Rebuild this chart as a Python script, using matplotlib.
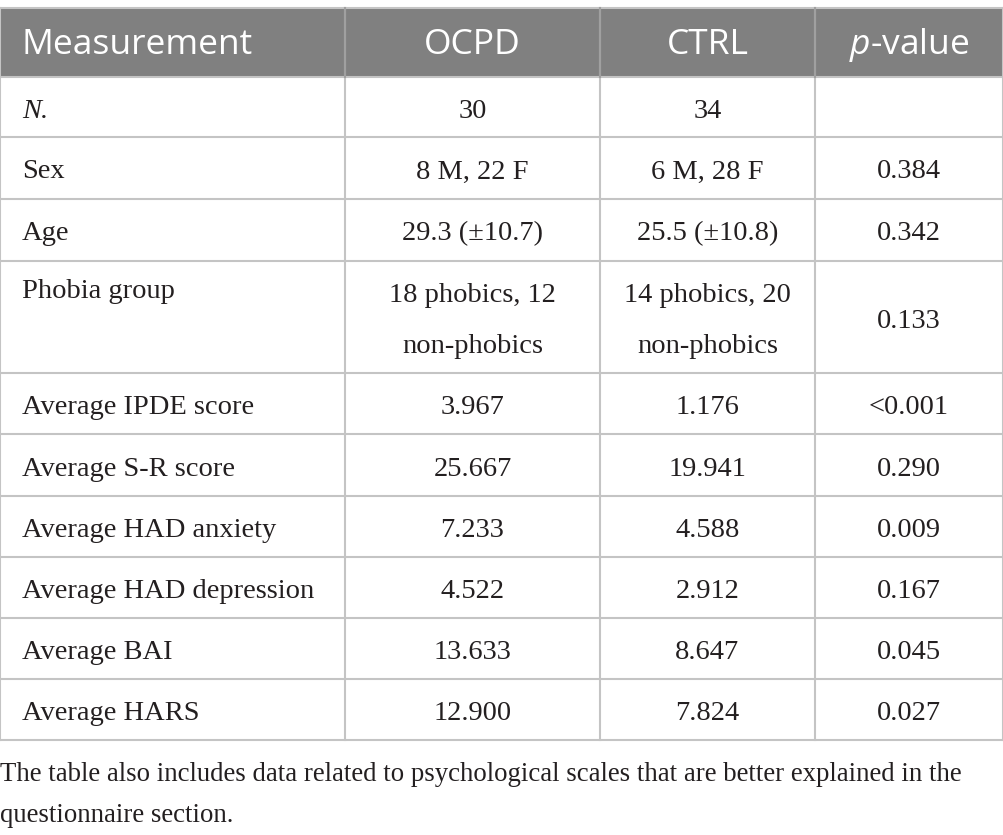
import matplotlib.pyplot as plt
from matplotlib.patches import Rectangle

plt.rcParams["mathtext.fontset"] = "custom"
plt.rcParams["mathtext.it"] = "Open Sans:italic"
plt.rcParams["mathtext.rm"] = "Open Sans"

# ── Datos de la tabla ───────────────────────────────────────────────
columnas = ["Measurement", "OCPD", "CTRL", r"$p$-value"]
medidas = ["N.", "Sex", "Age", "Phobia group", "Average IPDE score",
           "Average S-R score", "Average HAD anxiety", "Average HAD depression",
           "Average BAI", "Average HARS"]
ocpd = ["30", "8 M, 22 F", "29.3 (\u00b110.7)", "18 phobics, 12\nnon-phobics",
        "3.967", "25.667", "7.233", "4.522", "13.633", "12.900"]
ctrl = ["34", "6 M, 28 F", "25.5 (\u00b110.8)", "14 phobics, 20\nnon-phobics",
        "1.176", "19.941", "4.588", "2.912", "8.647", "7.824"]
p_valor = ["", "0.384", "0.342", "0.133", "<0.001", "0.290", "0.009",
           "0.167", "0.045", "0.027"]
nota = ("The table also includes data related to psychological scales that are better explained in the\n"
        "questionnaire section.")

# ── Geometría (píxeles) ─────────────────────────────────────────────
W, H = 1004, 835
col_x = [0, 345, 600, 815, 1003]
filas_y = [8, 77, 137, 199, 261, 373, 434, 496, 557, 618, 679, 740]
gris_linea = "#c4c4c4"
gris_cab = "#808080"
tinta = "#231f20"
dy = 4  # ajuste vertical del texto

fig = plt.figure(figsize=(W / 100, H / 100), dpi=100)
ax = fig.add_axes([0, 0, 1, 1])
ax.set_xlim(0, W)
ax.set_ylim(H, 0)
ax.axis("off")

serif = "Liberation Serif"
sans = "Open Sans"
fs_cab = 25.5
fs = 20.5

# cabecera
ax.add_patch(Rectangle((col_x[0], filas_y[0]), col_x[-1] - col_x[0],
                       filas_y[1] - filas_y[0], color=gris_cab, lw=0))
cy = (filas_y[0] + filas_y[1]) / 2 + 2
ax.text(22, cy, columnas[0], family=sans, fontsize=fs_cab, color="white",
        ha="left", va="center")
for j in range(1, 4):
    cx = (col_x[j] + col_x[j + 1]) / 2
    ax.text(cx, cy, columnas[j], family=sans, fontsize=fs_cab, color="white",
            ha="center", va="center")

# líneas horizontales
for y in filas_y:
    ax.plot([col_x[0], col_x[-1]], [y, y], color=gris_linea, lw=1.5)
# líneas verticales
for x in col_x:
    ax.plot([x, x], [filas_y[0], filas_y[-1]], color=gris_linea, lw=1.5)
for x in col_x[1:-1]:
    ax.plot([x, x], [filas_y[0], filas_y[1]], color="#a0a0a0", lw=1.5)

# cuerpo
for i in range(len(medidas)):
    y0, y1 = filas_y[i + 1], filas_y[i + 2]
    cy = (y0 + y1) / 2 + dy
    estilo = "italic" if medidas[i] == "N." else "normal"
    if medidas[i] == "Phobia group":
        ax.text(22, y0 + 31, medidas[i], family=serif, fontsize=fs,
                color=tinta, ha="left", va="center")
    else:
        ax.text(22, cy, medidas[i], family=serif, fontsize=fs, style=estilo,
                color=tinta, ha="left", va="center")
    for j, valores in enumerate([ocpd, ctrl, p_valor], start=1):
        cx = (col_x[j] + col_x[j + 1]) / 2
        ax.text(cx, cy, valores[i], family=serif, fontsize=fs,
                color=tinta, ha="center", va="center", linespacing=2.4)

# nota al pie
ax.text(0, 795, nota, family=serif, fontsize=19.3, color=tinta,
        ha="left", va="center", linespacing=1.85)

fig.savefig("out.png", dpi=100)
